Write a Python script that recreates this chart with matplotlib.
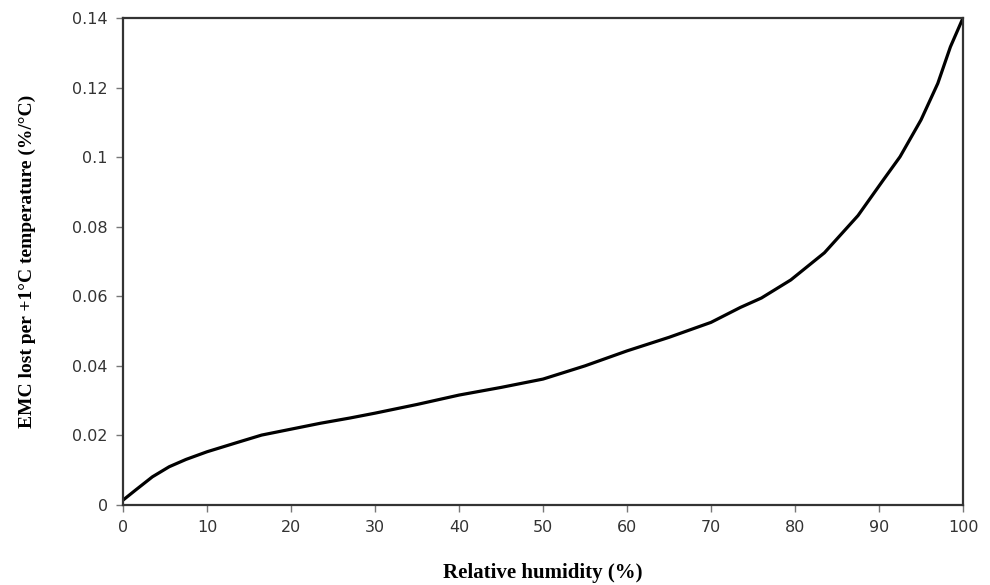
import matplotlib
matplotlib.use("Agg")
import matplotlib.pyplot as plt

rh = [0, 1.5, 3.5, 5.5, 7.5, 10, 13.5, 16.5, 20, 23.5, 27, 30, 35, 40, 45, 50, 55, 60, 65, 70,
      73.5, 76, 79.5, 83.5, 87.5, 90.5, 92.5, 95, 97, 98.5, 100]
emc_lost = [0.0014, 0.0043, 0.0081, 0.0110, 0.0131, 0.0153, 0.0179, 0.0201, 0.0218, 0.0235,
            0.0250, 0.0264, 0.0289, 0.0316, 0.0338, 0.0362, 0.0400, 0.0443, 0.0482, 0.0525,
            0.0568, 0.0595, 0.0647, 0.0725, 0.0832, 0.0934, 0.1001, 0.1107, 0.1212, 0.1317,
            0.1400]
xticks = [0, 10, 20, 30, 40, 50, 60, 70, 80, 90, 100]
yticks = [0, 0.02, 0.04, 0.06, 0.08, 0.1, 0.12, 0.14]
ytick_labels = ["0", "0.02", "0.04", "0.06", "0.08", "0.1", "0.12", "0.14"]

fig = plt.figure(figsize=(9.9, 5.85), dpi=100)
ax = fig.add_axes([123/990, 80/585, 840/990, 487/585])
ax.plot(rh, emc_lost, color="black", lw=2.3, solid_capstyle="round", solid_joinstyle="round")
ax.set_xlim(0, 100)
ax.set_ylim(0, 0.14)
ax.set_xticks(xticks)
ax.set_xticklabels([str(t) for t in xticks])
ax.set_yticks(yticks)
ax.set_yticklabels(ytick_labels)
for s in ax.spines.values():
    s.set_color("#333333")
    s.set_linewidth(1.6)
ax.tick_params(direction="out", length=5, width=1, color="#777777",
               labelsize=11.5, labelcolor="#333333", pad=6)
ax.set_xlabel("Relative humidity (%)", fontfamily="Liberation Serif", fontweight="bold",
              fontsize=15, labelpad=20)
ax.set_ylabel("EMC lost per +1°C temperature (%/°C)", fontfamily="Liberation Serif",
              fontweight="bold", fontsize=14, labelpad=26)
fig.savefig("out.png", dpi=100)
